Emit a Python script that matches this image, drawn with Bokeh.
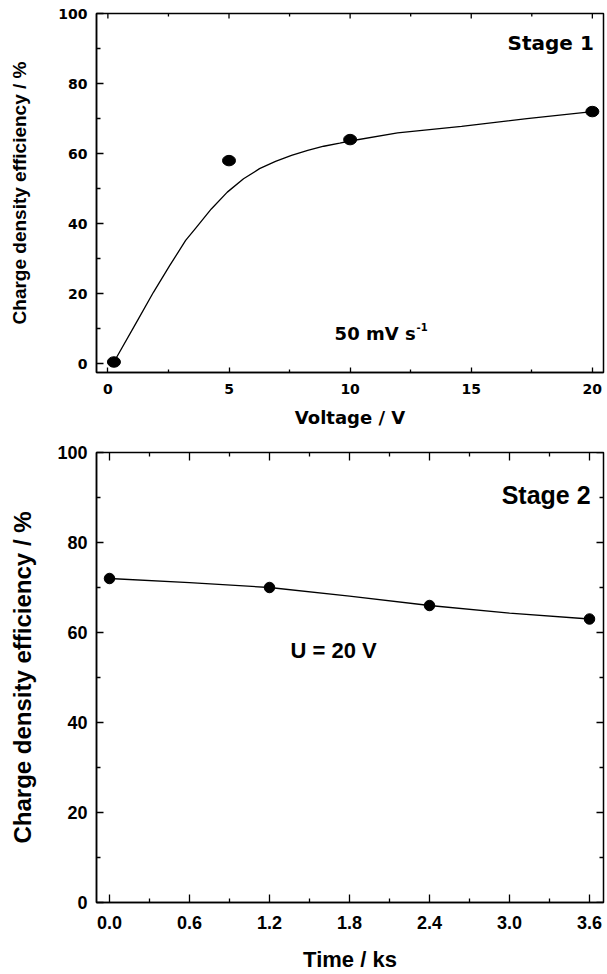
import math
from bokeh.plotting import figure
from bokeh.models import Range1d, Label, FixedTicker
from bokeh.layouts import column
from bokeh.embed import file_html
from bokeh.resources import INLINE

# ---------------- data: Stage 1 ----------------
voltage = [0.25, 5, 10, 20]
eff_voltage = [0.5, 58, 64, 72]
fit_voltage = [0.25, 1.22, 1.88, 2.55, 3.21, 3.61, 4.27, 4.93, 5.6, 6.26, 6.92,
               7.58, 8.25, 8.91, 9.57, 10.0, 11.96, 14.6, 17.3, 20.0]
fit_eff_voltage = [0.5, 12.3, 20.4, 28.0, 35.2, 38.6, 44.2, 49.0, 52.8, 55.7, 57.8,
                   59.5, 60.9, 62.1, 63.0, 63.6, 65.9, 67.8, 70.0, 72.0]
v_ticks = [0, 5, 10, 15, 20]
v_tick_labels = ["0", "5", "10", "15", "20"]
v_minor = [2.5, 7.5, 12.5, 17.5]

# ---------------- data: Stage 2 ----------------
time_ks = [0.0, 1.2, 2.4, 3.6]
eff_time = [72, 70, 66, 63]
fit_time = [0.0, 0.6, 1.2, 1.8, 2.4, 3.0, 3.6]
fit_eff_time = [72, 71.1, 70, 68.1, 66, 64.3, 63]
t_ticks = [0.0, 0.6, 1.2, 1.8, 2.4, 3.0, 3.6]
t_tick_labels = ["0.0", "0.6", "1.2", "1.8", "2.4", "3.0", "3.6"]
t_minor = [0.3, 0.9, 1.5, 2.1, 2.7, 3.3]

e_ticks = [0, 20, 40, 60, 80, 100]
e_tick_labels = ["0", "20", "40", "60", "80", "100"]
e_minor = [10, 30, 50, 70, 90]

y_title = "Charge density efficiency / %"

WIDE = "DejaVu Sans"
ARIAL = "Liberation Sans"


def style_axis(ax, major_in, minor_in, font, size, standoff):
    ax.axis_line_width = 1.5
    ax.axis_line_color = "black"
    ax.major_tick_in = major_in
    ax.major_tick_out = 0
    ax.minor_tick_in = minor_in
    ax.minor_tick_out = 0
    ax.major_tick_line_width = 1.3
    ax.minor_tick_line_width = 1.3
    ax.major_tick_line_color = "black"
    ax.minor_tick_line_color = "black"
    ax.major_label_text_font = font
    ax.major_label_text_font_size = size
    ax.major_label_text_font_style = "bold"
    ax.major_label_text_color = "black"
    ax.major_label_standoff = standoff


def axis_title(ax, text, font, size, standoff):
    ax.axis_label = text
    ax.axis_label_text_font = font
    ax.axis_label_text_font_size = size
    ax.axis_label_text_font_style = "bold"
    ax.axis_label_text_color = "black"
    ax.axis_label_standoff = standoff


def mirror_ticks(p, xs, y_edge, size, vertical=True):
    # inward tick marks on the opposite frame edge (outer half clipped by frame)
    n = len(xs)
    if vertical:
        p.scatter(xs, [y_edge] * n, marker="dash", size=size, angle=math.pi / 2,
                  line_color="black", line_width=1.3)
    else:
        p.scatter([y_edge] * n, xs, marker="dash", size=size, angle=0,
                  line_color="black", line_width=1.3)


def base_fig(height, xr, yr, left, right, top, bottom):
    p = figure(width=607, height=height, output_backend="svg", toolbar_location=None,
               x_range=xr, y_range=yr, min_border_left=left, min_border_right=right,
               min_border_top=top, min_border_bottom=bottom)
    p.outline_line_color = "black"
    p.outline_line_width = 1.5
    p.xgrid.grid_line_color = None
    p.ygrid.grid_line_color = None
    p.background_fill_color = "white"
    p.border_fill_color = "white"
    return p


# ================= Stage 1 figure =================
p1 = base_fig(437, Range1d(-0.47, 20.46), Range1d(-2.5, 100), 81, 0, 13, 65)
p1.xaxis.ticker = FixedTicker(ticks=v_ticks, minor_ticks=v_minor)
p1.xaxis.major_label_overrides = dict(zip(v_ticks, v_tick_labels))
p1.yaxis.ticker = FixedTicker(ticks=e_ticks, minor_ticks=e_minor)
p1.yaxis.major_label_overrides = dict(zip(e_ticks, e_tick_labels))
style_axis(p1.xaxis[0], 5, 3, WIDE, "14px", 11)
style_axis(p1.yaxis[0], 7, 4, WIDE, "14px", 9)
axis_title(p1.xaxis[0], "Voltage / V", WIDE, "18px", 10)
axis_title(p1.yaxis[0], y_title, ARIAL, "19px", 25)

mirror_ticks(p1, v_ticks, 100, 10)
mirror_ticks(p1, v_minor, 100, 6)

p1.line(fit_voltage, fit_eff_voltage, line_color="black", line_width=1.3)
p1.ellipse(voltage, eff_voltage, width=13, height=10.5, width_units="screen",
           height_units="screen", fill_color="black", line_color="black")

p1.add_layout(Label(x=20.06, y=91.6, text="Stage 1", text_align="right",
                    text_baseline="alphabetic", text_font=WIDE, text_font_size="20px",
                    text_font_style="bold", text_color="black"))
p1.add_layout(Label(x=9.36, y=8.6, text="50 mV s", text_align="left",
                    text_baseline="alphabetic", text_font=WIDE, text_font_size="18px",
                    text_font_style="bold", text_color="black"))
p1.add_layout(Label(x=12.74, y=10.6, text="-1", text_align="left",
                    text_baseline="alphabetic", text_font=WIDE, text_font_size="10px",
                    text_font_style="bold", text_color="black"))

# ================= Stage 2 figure =================
p2 = base_fig(537, Range1d(-0.0975, 3.705), Range1d(0, 100), 96, 4, 15, 72)
p2.xaxis.ticker = FixedTicker(ticks=t_ticks, minor_ticks=t_minor)
p2.xaxis.major_label_overrides = dict(zip(t_ticks, t_tick_labels))
p2.yaxis.ticker = FixedTicker(ticks=e_ticks, minor_ticks=e_minor)
p2.yaxis.major_label_overrides = dict(zip(e_ticks, e_tick_labels))
style_axis(p2.xaxis[0], 8, 4, ARIAL, "18px", 13)
style_axis(p2.yaxis[0], 7, 4, ARIAL, "18px", 9)
axis_title(p2.xaxis[0], "Time / ks", ARIAL, "22px", 15)
axis_title(p2.yaxis[0], y_title, ARIAL, "24px", 18)

mirror_ticks(p2, t_ticks, 100, 16)
mirror_ticks(p2, t_minor, 100, 8)
mirror_ticks(p2, e_ticks, 3.705, 14, vertical=False)
mirror_ticks(p2, e_minor, 3.705, 8, vertical=False)

p2.line(fit_time, fit_eff_time, line_color="black", line_width=1.3)
p2.scatter(time_ks, eff_time, marker="circle", size=10.5, fill_color="black",
           line_color="black")

p2.add_layout(Label(x=3.608, y=90.6, text="Stage 2", text_align="right",
                    text_baseline="alphabetic", text_font=ARIAL, text_font_size="25px",
                    text_font_style="bold", text_color="black"))
p2.add_layout(Label(x=1.358, y=56.0, text="U = 20 V", text_align="left",
                    text_baseline="alphabetic", text_font=ARIAL, text_font_size="22px",
                    text_font_style="bold", text_color="black"))

layout = column(p1, p2, spacing=0)
open("out.html", "w").write(file_html(layout, INLINE))
